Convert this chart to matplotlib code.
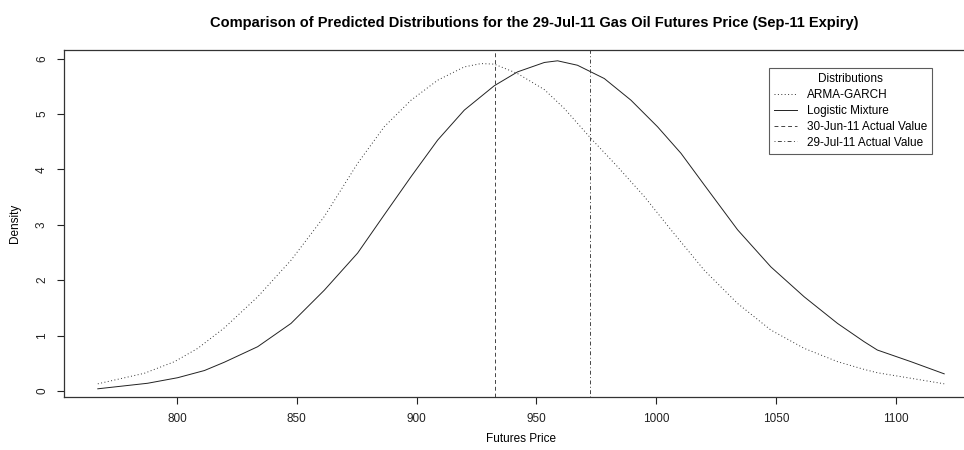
import matplotlib.pyplot as plt

plt.rcParams['font.family'] = ['Liberation Sans', 'DejaVu Sans']

# ARMA-GARCH predicted density
arma_x = [767.0, 786.4, 799.0, 808.7, 819.8, 833.7, 847.6, 861.5, 875.4, 886.5,
          897.7, 908.8, 919.9, 926.9, 932.4, 942.1, 953.3, 961.6, 972.7, 983.8,
          995.0, 1006.1, 1020.0, 1033.9, 1047.8, 1061.7, 1075.6, 1086.7, 1092.2, 1106.2,
          1120.1]
arma_y = [0.13, 0.32, 0.53, 0.77, 1.14, 1.70, 2.36, 3.15, 4.11, 4.77,
          5.25, 5.61, 5.85, 5.91, 5.90, 5.73, 5.44, 5.10, 4.56, 4.05,
          3.51, 2.91, 2.18, 1.58, 1.10, 0.77, 0.53, 0.39, 0.33, 0.23,
          0.13]

# Logistic mixture predicted density
logis_x = [767.0, 787.8, 800.3, 811.5, 819.8, 833.7, 847.6, 861.5, 875.4, 886.5,
           897.7, 908.8, 919.9, 932.4, 942.1, 953.3, 958.8, 967.1, 978.3, 989.4,
           1000.5, 1010.3, 1020.0, 1033.9, 1047.8, 1061.7, 1075.6, 1086.7, 1092.2, 1106.2,
           1120.1]
logis_y = [0.04, 0.14, 0.24, 0.37, 0.52, 0.80, 1.22, 1.82, 2.49, 3.18,
           3.87, 4.53, 5.07, 5.51, 5.76, 5.93, 5.96, 5.88, 5.64, 5.25,
           4.77, 4.29, 3.72, 2.91, 2.24, 1.70, 1.22, 0.89, 0.74, 0.53,
           0.31]

actual_jun = 932.5
actual_jul = 972.5

fig = plt.figure(figsize=(9.64, 4.5), dpi=100)
# plot region runs a little past the right edge of the picture
ax = fig.add_axes([64 / 964, 53 / 450, 914 / 964, 347 / 450])

lw = 0.7
ax.plot(arma_x, arma_y, color='#333333', lw=lw, dashes=(1, 2.5), label='ARMA-GARCH')
ax.plot(logis_x, logis_y, color='#222222', lw=lw, label='Logistic Mixture')
ax.axvline(actual_jun, color='#444444', lw=lw, dashes=(4, 3), label='30-Jun-11 Actual Value')
ax.axvline(actual_jul, color='#444444', lw=lw, dashes=(1, 2.5, 4, 2.5), label='29-Jul-11 Actual Value')

ax.set_xlim(752.9, 1134.2)
ax.set_ylim(-0.108, 6.155)
ax.set_xticks([800, 850, 900, 950, 1000, 1050, 1100])
ax.set_yticks([0, 1, 2, 3, 4, 5, 6])
ax.tick_params(direction='out', length=5, width=0.8, labelsize=8.5, colors='#222222',
               top=False, right=False, pad=6.5)
for lab in ax.get_yticklabels():
    lab.set_rotation(90)
    lab.set_va('center')
for s in ax.spines.values():
    s.set_linewidth(0.9)
    s.set_color('#333333')

ax.set_xlabel('Futures Price', fontsize=8.5, labelpad=6)
ax.set_ylabel('Density', fontsize=8.5, labelpad=11)
fig.suptitle('Comparison of Predicted Distributions for the 29-Jul-11 Gas Oil Futures Price (Sep-11 Expiry)',
             fontsize=10.5, fontweight='bold', x=534 / 964, y=0.965)

leg = ax.legend(title='Distributions', loc='upper right',
                bbox_to_anchor=((932 - 64) / 914, (397 - 68) / 347),
                fontsize=8.5, title_fontsize=8.5, frameon=True, fancybox=False,
                handlelength=1.9, handletextpad=0.85, labelspacing=0.33,
                borderpad=0.42, borderaxespad=0)
leg.get_frame().set_edgecolor('#333333')
leg.get_frame().set_linewidth(0.8)

fig.savefig('out.png', dpi=100)
